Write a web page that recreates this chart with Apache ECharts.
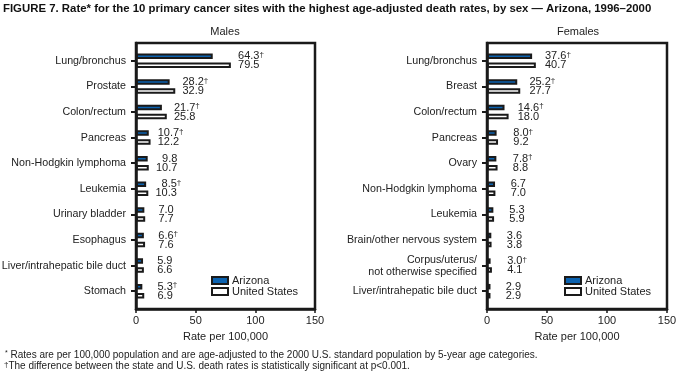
<!DOCTYPE html>
<html>
<head>
<meta charset="utf-8">
<script src="https://cdn.jsdelivr.net/npm/echarts@6/dist/echarts.min.js"></script>
<style>html,body{margin:0;padding:0;background:#fff}#c{width:684px;height:382px}</style>
</head>
<body>
<div id="c"></div>
<script>
// ---- data ----
const maleSites = ['Lung/bronchus','Prostate','Colon/rectum','Pancreas','Non-Hodgkin lymphoma','Leukemia','Urinary bladder','Esophagus','Liver/intrahepatic bile duct','Stomach'];
const maleArizona = [64.3, 28.2, 21.7, 10.7, 9.8, 8.5, 7.0, 6.6, 5.9, 5.3];
const maleUS = [79.5, 32.9, 25.8, 12.2, 10.7, 10.3, 7.7, 7.6, 6.6, 6.9];
const maleSignificant = [1, 1, 1, 1, 0, 1, 0, 1, 0, 1];

const femaleSites = ['Lung/bronchus','Breast','Colon/rectum','Pancreas','Ovary','Non-Hodgkin lymphoma','Leukemia','Brain/other nervous system','Corpus/uterus/\nnot otherwise specified','Liver/intrahepatic bile duct'];
const femaleArizona = [37.6, 25.2, 14.6, 8.0, 7.8, 6.7, 5.3, 3.6, 3.0, 2.9];
const femaleUS = [40.7, 27.7, 18.0, 9.2, 8.8, 7.0, 5.9, 3.8, 4.1, 2.9];
const femaleSignificant = [1, 1, 1, 1, 1, 0, 0, 0, 1, 0];

const xTicks = {min: 0, max: 150, interval: 50};
const xName = 'Rate per 100,000';
const seriesNames = ['Arizona', 'United States'];

// ---- styles ----
const FONT = "'Liberation Sans', Arial, Helvetica, sans-serif";
const INK = '#1a1a1a';
const TXT = '#222';
const BLUE = '#0b62b0';

const rich = {
  n: {fontSize: 11, color: TXT, fontFamily: FONT},
  d: {fontSize: 8, color: TXT, verticalAlign: 'top', fontFamily: FONT},
  h: {fontSize: 8, color: 'transparent', verticalAlign: 'top', fontFamily: FONT}
};
function fmt(v, sig) {
  return '{n|' + v.toFixed(1) + '}' + (sig ? '{d|†}' : '{h|†}');
}

const chart = echarts.init(document.getElementById('c'), null, {renderer: 'canvas'});

const grids = [], xAxes = [], yAxes = [], series = [], legends = [];
const BW = 5.5, BG = '64%';

function panel(p, cats, az, us, sig, left, right, dist, legendLeft) {
  const fi = grids.length;
  grids.push({left: left, right: right, top: 43, bottom: 73, containLabel: false, outerBoundsMode: 'none',
    show: true, borderColor: INK, borderWidth: 2.5, backgroundColor: 'transparent'});
  grids.push({left: left, right: right, top: 48, bottom: 78, containLabel: false, outerBoundsMode: 'none'});
  xAxes.push({
    gridIndex: fi, type: 'value', min: xTicks.min, max: xTicks.max, interval: xTicks.interval,
    axisLine: {show: true, lineStyle: {color: INK, width: 2.5}},
    axisTick: {show: true, length: 4, lineStyle: {color: INK, width: 1.5}},
    axisLabel: {fontSize: 11, color: TXT, margin: 6, fontFamily: FONT},
    splitLine: {show: false},
    name: xName, nameLocation: 'middle', nameGap: 22,
    nameTextStyle: {fontSize: 11, color: TXT, fontFamily: FONT}
  });
  xAxes.push({gridIndex: fi + 1, type: 'value', min: xTicks.min, max: xTicks.max, show: false});
  yAxes.push({
    gridIndex: fi, type: 'value', min: 0, max: 1,
    axisLine: {show: true, lineStyle: {color: INK, width: 2.5}},
    axisTick: {show: false}, axisLabel: {show: false}, splitLine: {show: false}
  });
  yAxes.push({
    gridIndex: fi + 1, type: 'category', data: cats, inverse: true,
    axisLine: {show: true, lineStyle: {color: 'transparent'}},
    axisTick: {show: true, alignWithLabel: true, length: 5, lineStyle: {color: INK, width: 2}},
    axisLabel: {fontSize: 10.7, color: TXT, margin: 10, lineHeight: 12, fontFamily: FONT},
    splitLine: {show: false}
  });
  const xi = fi + 1, yi = fi + 1;
  const azGhost = az.map((v, i) => Math.max(v, us[i]) - v);
  const usGhost = us.map((v, i) => Math.max(v, az[i]) - v);
  series.push({
    type: 'bar', name: seriesNames[0], xAxisIndex: xi, yAxisIndex: yi, stack: 'az' + p,
    data: az, barWidth: BW, barGap: BG,
    itemStyle: {color: BLUE, borderColor: INK, borderWidth: 2}
  });
  series.push({
    type: 'bar', name: 'azLabel' + p, xAxisIndex: xi, yAxisIndex: yi, stack: 'az' + p,
    data: azGhost, barWidth: BW, barGap: BG, silent: true,
    itemStyle: {color: 'transparent', borderWidth: 0},
    label: {show: true, position: 'right', distance: dist, align: 'right',
      formatter: (q) => fmt(az[q.dataIndex], sig[q.dataIndex]), rich: rich}
  });
  series.push({
    type: 'bar', name: seriesNames[1], xAxisIndex: xi, yAxisIndex: yi, stack: 'us' + p,
    data: us, barWidth: BW, barGap: BG,
    itemStyle: {color: '#fff', borderColor: INK, borderWidth: 2}
  });
  series.push({
    type: 'bar', name: 'usLabel' + p, xAxisIndex: xi, yAxisIndex: yi, stack: 'us' + p,
    data: usGhost, barWidth: BW, barGap: BG, silent: true,
    itemStyle: {color: 'transparent', borderWidth: 0},
    label: {show: true, position: 'right', distance: dist, align: 'right',
      formatter: (q) => fmt(us[q.dataIndex], 0), rich: rich}
  });
  legends.push({
    data: seriesNames, left: legendLeft, top: 275, orient: 'vertical', padding: 0,
    itemWidth: 16, itemHeight: 7, itemGap: 0, icon: 'rect', selectedMode: false,
    textStyle: {fontSize: 11, color: TXT, lineHeight: 11, fontFamily: FONT, padding: [0, 0, 0, -1]}
  });
}

panel(0, maleSites, maleArizona, maleUS, maleSignificant, 136, 369, 33, 211);
panel(1, femaleSites, femaleArizona, femaleUS, femaleSignificant, 487, 17, 35, 564);

const option = {
  animation: false,
  backgroundColor: '#fff',
  textStyle: {fontFamily: FONT},
  title: {
    text: '{a|FIGURE 7. Rate* for the 10 primary cancer sites with the highest age-adjusted death rates, by sex — }{b|Arizona, 1996–2000}',
    left: 3, top: 3, padding: 0,
    textStyle: {rich: {
      a: {fontSize: 11.4, color: '#111', fontFamily: FONT},
      b: {fontSize: 11.4, color: '#111', fontWeight: 'bold', fontFamily: FONT}
    }}
  },
  grid: grids, xAxis: xAxes, yAxis: yAxes, series: series, legend: legends,
  graphic: [
    {type: 'text', x: 225, y: 32, style: {text: 'Males', font: '11px ' + FONT, fill: TXT, textAlign: 'center', textVerticalAlign: 'middle'}},
    {type: 'text', x: 578, y: 32, style: {text: 'Females', font: '11px ' + FONT, fill: TXT, textAlign: 'center', textVerticalAlign: 'middle'}},
    {type: 'text', x: 5, y: 355, style: {
      text: '{s|*}{t| Rates are per 100,000 population and are age-adjusted to the 2000 U.S. standard population by 5-year age categories.}',
      textVerticalAlign: 'middle',
      rich: {s: {fontSize: 7, verticalAlign: 'top', fill: TXT, fontFamily: FONT}, t: {fontSize: 10, fill: TXT, fontFamily: FONT}}
    }},
    {type: 'text', x: 4, y: 366, style: {
      text: '{s|†}{t|The difference between the state and U.S. death rates is statistically significant at p<0.001.}',
      textVerticalAlign: 'middle',
      rich: {s: {fontSize: 8, verticalAlign: 'top', fill: TXT, fontFamily: FONT}, t: {fontSize: 10, fill: TXT, fontFamily: FONT}}
    }}
  ]
};
chart.setOption(option);
</script>
</body>
</html>
